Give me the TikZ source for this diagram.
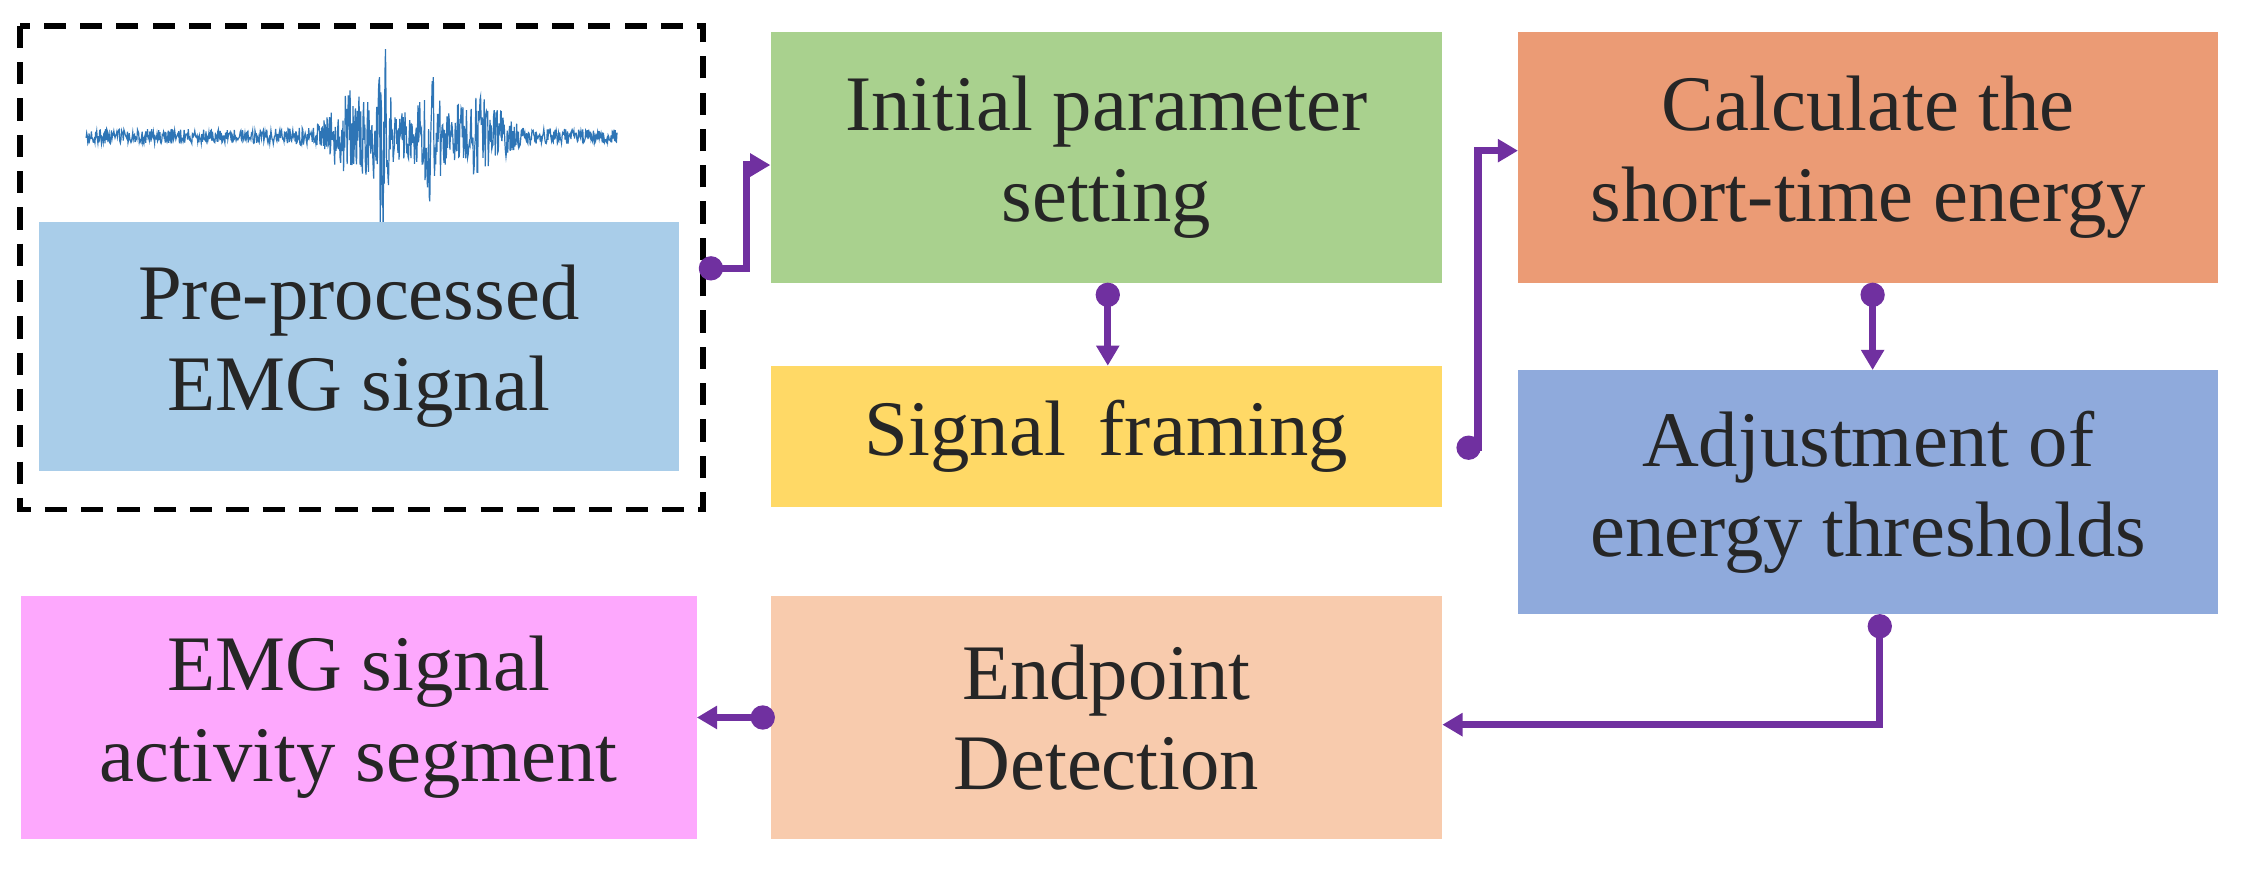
\documentclass[tikz,border=0pt]{standalone}
\usepackage{fontspec}
\setmainfont{Liberation Serif}
\usetikzlibrary{arrows.meta}
\definecolor{cBlue}{HTML}{A9CDE9}
\definecolor{cGreen}{HTML}{A9D18E}
\definecolor{cYellow}{HTML}{FFD966}
\definecolor{cOrange}{HTML}{EB9B75}
\definecolor{cPeri}{HTML}{8FAADC}
\definecolor{cPeach}{HTML}{F8CBAD}
\definecolor{cPink}{HTML}{FDA8FD}
\definecolor{cPurple}{HTML}{7030A0}
\definecolor{cWave}{HTML}{2E75B6}
\begin{document}
\begin{tikzpicture}[x=0.05cm,y=-0.05cm,
  box/.style={draw=none,inner sep=0,align=center,font=\fontsize{78}{90}\selectfont,text=black!85},
  con/.style={draw=cPurple,line width=7pt,{Circle[length=24pt]}-{Triangle[length=20pt,width=22pt]}}]
\useasboundingbox (0,0) rectangle (1568,608);
\draw[line width=5.5pt,dash pattern=on 22pt off 14pt] (14,18) rectangle (490,355);
\pgfmathsetseed{7}
\draw[cWave,line width=1.2pt] plot[domain=60:430,samples=900]
 (\x,{95+rand*(5+60*exp(-((\x-266)/5)^2)+30*exp(-((\x-300)/8)^2)+22*exp(-((\x-245)/15)^2)+18*exp(-((\x-335)/18)^2)+12*exp(-((\x-290)/50)^2))});
\node[box,fill=cBlue] (pre) at (250,241.5) [minimum width=446*0.05cm,minimum height=173*0.05cm] {Pre-processed\\EMG signal};
\node[box,fill=cGreen] (ini) at (771,109.5) [minimum width=468*0.05cm,minimum height=175*0.05cm] {Initial parameter\\setting};
\node[box,fill=cYellow] (fra) at (771,304) [minimum width=468*0.05cm,minimum height=98*0.05cm] {Signal\, framing};
\node[box,fill=cOrange] (cal) at (1302,109.5) [minimum width=488*0.05cm,minimum height=175*0.05cm] {Calculate the\\short-time energy};
\node[box,fill=cPeri] (adj) at (1302,343) [minimum width=488*0.05cm,minimum height=170*0.05cm] {Adjustment of\\energy thresholds};
\node[box,fill=cPeach] (end) at (771,500) [minimum width=468*0.05cm,minimum height=170*0.05cm] {Endpoint\\Detection};
\node[box,fill=cPink] (act) at (250,500) [minimum width=471*0.05cm,minimum height=170*0.05cm] {EMG signal\\activity segment};
\draw[con] (487,187) -- (520,187) -- (520,115) -- (ini.west|-0,115);
\draw[con] (772,197) -- (fra.north-|772,0);
\draw[con] (1015,312) -- (1030,312) -- (1030,105) -- (cal.west|-0,105);
\draw[con] (1305,197) -- (adj.north-|1305,0);
\draw[con] (1310,428) -- (1310,505) -- (end.east|-0,505);
\draw[con] (540,500) -- (act.east|-0,500);
\end{tikzpicture}
\end{document}
